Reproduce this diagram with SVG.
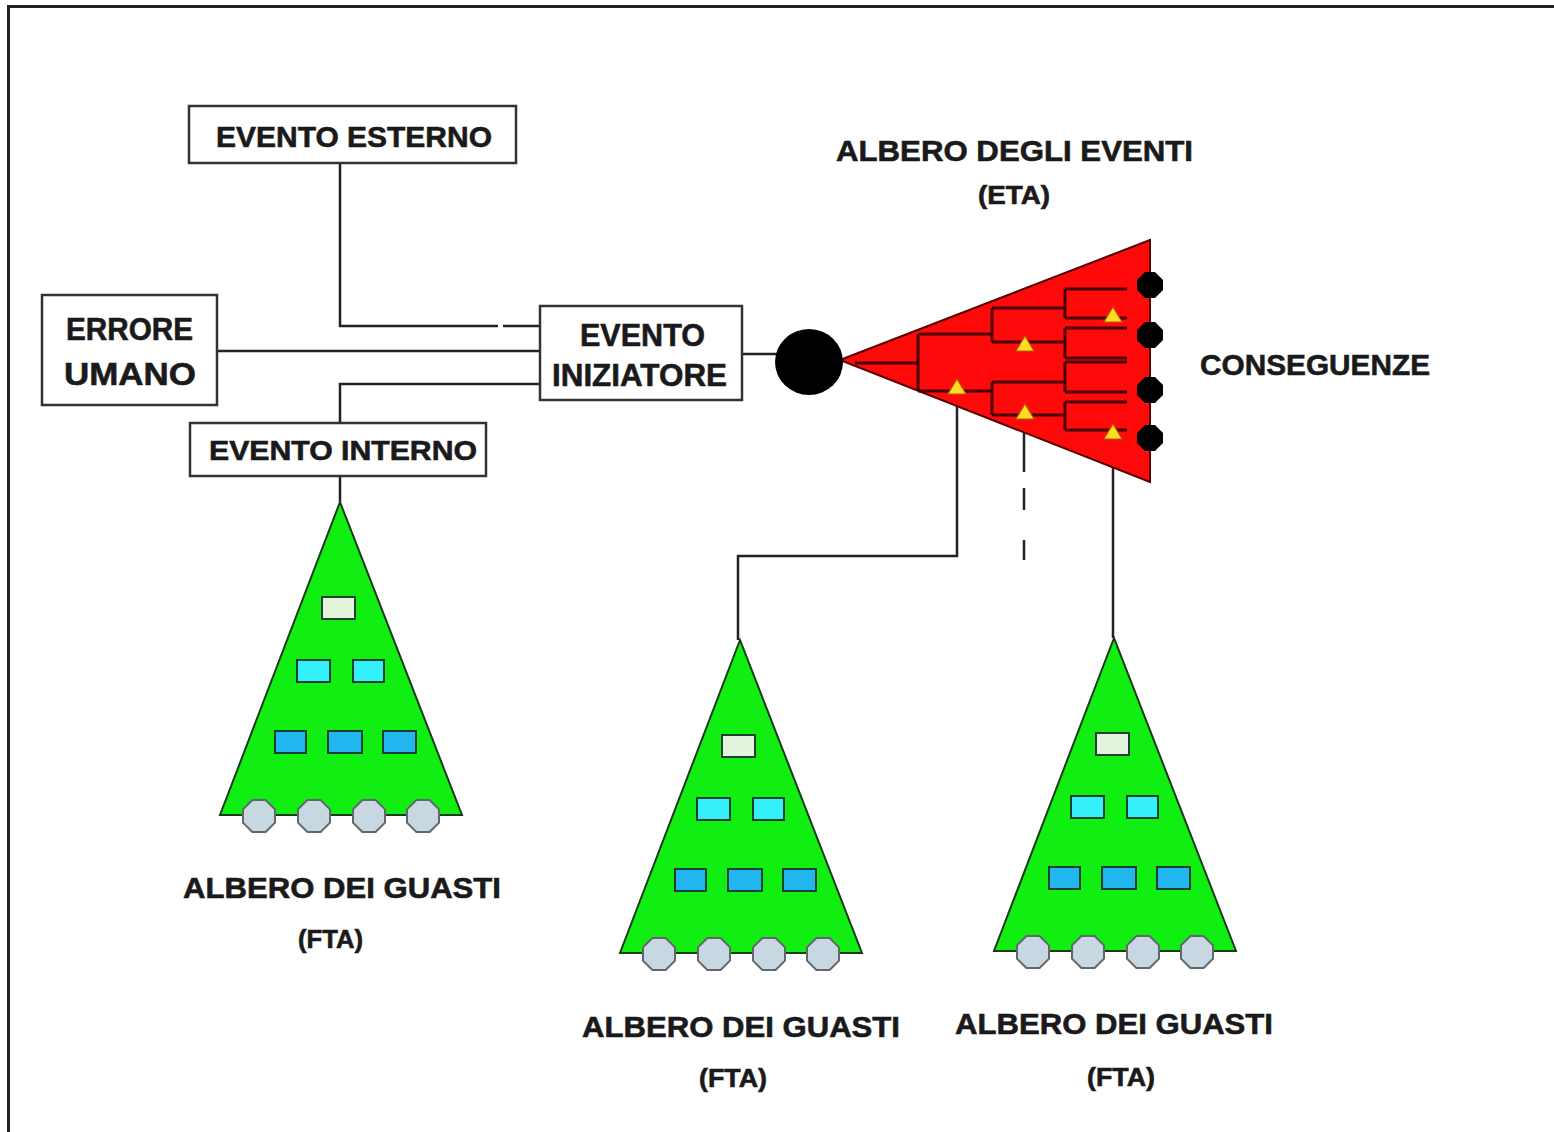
<svg xmlns="http://www.w3.org/2000/svg" xmlns:xlink="http://www.w3.org/1999/xlink" width="1554" height="1132" viewBox="0 0 1554 1132">
<style>
.lbl{font-family:"Liberation Sans",Arial,sans-serif;font-weight:bold;fill:#1a1a1a;stroke:#1a1a1a;stroke-width:0.6}
.box{fill:#ffffff;stroke:#333333;stroke-width:2.5}
.wire{fill:none;stroke:#222222;stroke-width:2.5}
.tree{fill:none;stroke:#4a0000;stroke-width:3}
.tri{fill:#ffdd22;stroke:#b06000;stroke-width:1.2}
.cons{fill:#000000}
.gtri{fill:#11ee11;stroke:#1a3a1a;stroke-width:2}
.r0{fill:#e2f5dc;stroke:#1a4030;stroke-width:2}
.r1{fill:#33f0fa;stroke:#1a4030;stroke-width:2}
.r2{fill:#22b6ee;stroke:#1a4030;stroke-width:2}
.oct{fill:#c8d8e2;stroke:#606868;stroke-width:2}
</style>
<defs>
<polygon id="octa" points="-6.6,-16 6.6,-16 16,-6.6 16,6.6 6.6,16 -6.6,16 -16,6.6 -16,-6.6"/>
<polygon id="blob" points="-5,-13 5,-13 13,-5 13,5 5,13 -5,13 -13,5 -13,-5"/>
<polygon id="ytri" points="0,-8 9,7 -9,7"/>
<g id="fta">
<polygon class="gtri" points="0,0 -120,313 122,313"/>
<rect class="r0" x="-18" y="95" width="33" height="22"/>
<rect class="r1" x="-43" y="158" width="33" height="22"/>
<rect class="r1" x="13" y="158" width="31" height="22"/>
<rect class="r2" x="-65" y="229" width="31" height="22"/>
<rect class="r2" x="-12" y="229" width="34" height="22"/>
<rect class="r2" x="43" y="229" width="33" height="22"/>
<use xlink:href="#octa" class="oct" x="-81" y="314"/>
<use xlink:href="#octa" class="oct" x="-26" y="314"/>
<use xlink:href="#octa" class="oct" x="29" y="314"/>
<use xlink:href="#octa" class="oct" x="83" y="314"/>
</g>
</defs>
<rect x="0" y="0" width="1554" height="1132" fill="#ffffff"/>
<path d="M8.5,1132 V6.5 H1554" fill="none" stroke="#222222" stroke-width="3"/>

<g id="connectors">
<path class="wire" d="M340,163 V326 H498 M503,326 H540"/>
<path class="wire" d="M217,351 H540"/>
<path class="wire" d="M340,423 V384 H540"/>
<path class="wire" d="M340,477 V502"/>
<path class="wire" d="M742,354 H778"/>
<path class="wire" d="M957,394 V556 H738 V640"/>
<path class="wire" d="M1113,439 V638"/>
<path class="wire" d="M1024,419 V472 M1024,488 V510 M1024,540 V560"/>
</g>

<g id="evento-esterno">
<rect class="box" x="189" y="106" width="327" height="57"/>
<text class="lbl" x="216" y="147" font-size="30" textLength="276" lengthAdjust="spacingAndGlyphs">EVENTO ESTERNO</text>
</g>
<g id="errore-umano">
<rect class="box" x="42" y="295" width="175" height="110"/>
<text class="lbl" x="66" y="340" font-size="32" textLength="127" lengthAdjust="spacingAndGlyphs">ERRORE</text>
<text class="lbl" x="64" y="385" font-size="32" textLength="132" lengthAdjust="spacingAndGlyphs">UMANO</text>
</g>
<g id="evento-iniziatore">
<rect class="box" x="540" y="306" width="202" height="94"/>
<text class="lbl" x="580" y="346" font-size="32" textLength="125" lengthAdjust="spacingAndGlyphs">EVENTO</text>
<text class="lbl" x="552" y="386" font-size="32" textLength="175" lengthAdjust="spacingAndGlyphs">INIZIATORE</text>
</g>
<g id="evento-interno">
<rect class="box" x="190" y="423" width="296" height="53"/>
<text class="lbl" x="209" y="460" font-size="28" textLength="268" lengthAdjust="spacingAndGlyphs">EVENTO INTERNO</text>
</g>

<g id="eta">
<polygon points="840,360 1150,240 1150,482" fill="#ff0a0a" stroke="#5a0000" stroke-width="2"/>
<path class="tree" d="M855,363 H918 M918,334 V391 M918,334 H992 M918,391 H992 M992,308 V342 M992,308 H1065 M992,342 H1065 M992,382 V415 M992,382 H1065 M992,415 H1065 M1065,289 V318 M1065,289 H1127 M1065,318 H1127 M1065,328 V358 M1065,328 H1127 M1065,358 H1127 M1065,362 V392 M1065,362 H1127 M1065,392 H1127 M1065,402 V430 M1065,402 H1127 M1065,430 H1127"/>
<use xlink:href="#ytri" class="tri" x="1113" y="315"/>
<use xlink:href="#ytri" class="tri" x="1025" y="344"/>
<use xlink:href="#ytri" class="tri" x="957" y="387"/>
<use xlink:href="#ytri" class="tri" x="1025" y="412"/>
<use xlink:href="#ytri" class="tri" x="1113" y="432"/>
<ellipse cx="809" cy="362" rx="34" ry="33" fill="#000000"/>
<use xlink:href="#blob" class="cons" x="1150" y="285"/>
<use xlink:href="#blob" class="cons" x="1150" y="335"/>
<use xlink:href="#blob" class="cons" x="1150" y="390"/>
<use xlink:href="#blob" class="cons" x="1150" y="438"/>
<text class="lbl" x="836" y="161" font-size="30" textLength="357" lengthAdjust="spacingAndGlyphs">ALBERO DEGLI EVENTI</text>
<text class="lbl" x="978" y="204" font-size="25" textLength="72" lengthAdjust="spacingAndGlyphs">(ETA)</text>
<text class="lbl" x="1200" y="375" font-size="30" textLength="230" lengthAdjust="spacingAndGlyphs">CONSEGUENZE</text>
</g>

<g id="fta-1">
<use xlink:href="#fta" x="340" y="502"/>
<text class="lbl" x="183" y="898" font-size="30" textLength="318" lengthAdjust="spacingAndGlyphs">ALBERO DEI GUASTI</text>
<text class="lbl" x="298" y="948" font-size="25" textLength="65" lengthAdjust="spacingAndGlyphs">(FTA)</text>
</g>
<g id="fta-2">
<use xlink:href="#fta" x="740" y="640"/>
<text class="lbl" x="582" y="1037" font-size="30" textLength="318" lengthAdjust="spacingAndGlyphs">ALBERO DEI GUASTI</text>
<text class="lbl" x="699" y="1087" font-size="25" textLength="68" lengthAdjust="spacingAndGlyphs">(FTA)</text>
</g>
<g id="fta-3">
<use xlink:href="#fta" x="1114" y="638"/>
<text class="lbl" x="955" y="1034" font-size="30" textLength="318" lengthAdjust="spacingAndGlyphs">ALBERO DEI GUASTI</text>
<text class="lbl" x="1087" y="1086" font-size="25" textLength="68" lengthAdjust="spacingAndGlyphs">(FTA)</text>
</g>
</svg>
